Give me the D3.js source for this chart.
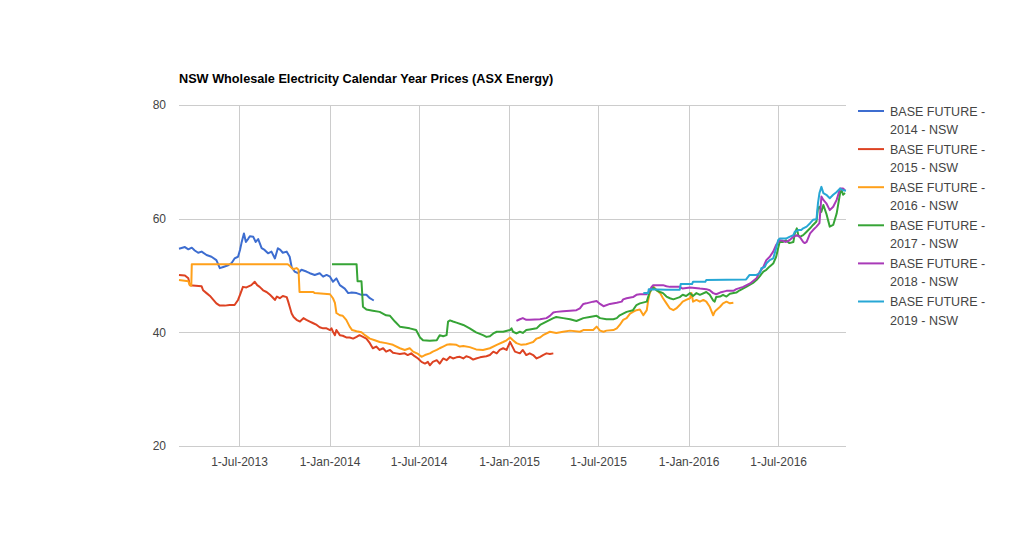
<!DOCTYPE html>
<html><head><meta charset="utf-8">
<script src="https://cdn.jsdelivr.net/npm/d3@7"></script>
<style>
body{margin:0;background:#fff;}
svg{display:block;font-family:Arial,"Liberation Sans",sans-serif;}
</style>
</head><body>
<svg id="chart" width="1024" height="551"></svg>
<script>
const chartTitle = "NSW Wholesale Electricity Calendar Year Prices (ASX Energy)";
const seriesNames = ["BASE FUTURE - 2014 - NSW","BASE FUTURE - 2015 - NSW","BASE FUTURE - 2016 - NSW","BASE FUTURE - 2017 - NSW","BASE FUTURE - 2018 - NSW","BASE FUTURE - 2019 - NSW"];
const seriesColors = ["#3d6dd0","#dd4222","#ffa01a","#36a436","#a93ab8","#27a7d5"];
const yTicks = [20,40,60,80];
const xTickDates = ["2013-07-01","2014-01-01","2014-07-01","2015-01-01","2015-07-01","2016-01-01","2016-07-01"];
const xTickLabels = ["1-Jul-2013","1-Jan-2014","1-Jul-2014","1-Jan-2015","1-Jul-2015","1-Jan-2016","1-Jul-2016"];
const xDomain = ["2013-03-01","2016-11-16"];
const yDomain = [20,80];

const base2014 = [["2013-03-01",54.7],["2013-03-13",55.0],["2013-03-20",54.6],["2013-03-27",54.9],["2013-04-02",54.4],["2013-04-09",54.0],["2013-04-16",54.2],["2013-04-26",53.6],["2013-05-06",53.3],["2013-05-16",52.7],["2013-05-23",51.3],["2013-05-30",51.5],["2013-06-09",51.8],["2013-06-16",52.2],["2013-06-22",53.0],["2013-06-29",53.3],["2013-07-03",54.5],["2013-07-06",55.7],["2013-07-11",57.4],["2013-07-15",55.9],["2013-07-20",56.5],["2013-07-23",56.9],["2013-07-30",56.8],["2013-08-04",55.9],["2013-08-09",56.4],["2013-08-16",54.8],["2013-08-22",54.5],["2013-08-29",53.9],["2013-09-05",54.2],["2013-09-12",53.0],["2013-09-18",54.8],["2013-09-23",54.5],["2013-09-28",54.0],["2013-10-06",54.2],["2013-10-12",53.3],["2013-10-16",51.5],["2013-10-22",50.7],["2013-10-29",50.4],["2013-11-05",51.0],["2013-11-15",50.7],["2013-11-22",50.4],["2013-12-02",50.1],["2013-12-12",50.4],["2013-12-19",49.8],["2013-12-26",50.1],["2014-01-02",49.8],["2014-01-08",48.9],["2014-01-15",49.5],["2014-01-22",48.3],["2014-02-01",47.7],["2014-02-08",46.9],["2014-02-15",47.0],["2014-02-25",46.9],["2014-03-07",46.6],["2014-03-17",46.6],["2014-03-24",46.0],["2014-04-01",45.6]];

const base2015 = [["2013-03-01",50.1],["2013-03-13",50.0],["2013-03-20",49.5],["2013-03-23",48.3],["2013-04-16",48.1],["2013-04-19",47.4],["2013-04-26",46.9],["2013-05-03",46.4],["2013-05-09",45.8],["2013-05-16",45.1],["2013-05-23",44.7],["2013-06-02",44.7],["2013-06-12",44.8],["2013-06-22",44.8],["2013-06-29",45.7],["2013-07-03",46.6],["2013-07-09",48.0],["2013-07-16",47.9],["2013-07-26",48.3],["2013-08-02",48.9],["2013-08-07",48.3],["2013-08-12",48.0],["2013-08-19",47.4],["2013-08-26",47.1],["2013-09-02",46.6],["2013-09-09",46.0],["2013-09-12",45.7],["2013-09-16",46.3],["2013-09-22",46.0],["2013-09-28",46.4],["2013-10-06",46.2],["2013-10-09",45.4],["2013-10-12",44.5],["2013-10-16",43.3],["2013-10-20",42.7],["2013-10-26",42.2],["2013-11-02",41.9],["2013-11-09",42.5],["2013-11-15",42.2],["2013-11-22",41.9],["2013-11-29",41.6],["2013-12-06",41.3],["2013-12-12",40.9],["2013-12-19",40.7],["2013-12-26",40.7],["2014-01-02",40.4],["2014-01-05",40.7],["2014-01-08",40.1],["2014-01-12",39.5],["2014-01-15",40.4],["2014-01-22",39.5],["2014-01-28",39.4],["2014-02-04",39.1],["2014-02-11",39.1],["2014-02-18",38.9],["2014-02-25",39.2],["2014-03-03",39.5],["2014-03-10",39.2],["2014-03-17",38.9],["2014-03-24",38.1],["2014-03-30",37.2],["2014-04-06",37.5],["2014-04-13",36.9],["2014-04-20",37.2],["2014-04-26",36.6],["2014-05-04",36.9],["2014-05-10",36.4],["2014-05-17",36.3],["2014-05-24",36.2],["2014-06-03",36.3],["2014-06-09",36.0],["2014-06-16",36.3],["2014-06-23",35.8],["2014-06-30",35.4],["2014-07-07",34.8],["2014-07-14",34.5],["2014-07-20",34.8],["2014-07-24",34.2],["2014-07-30",34.8],["2014-08-07",35.1],["2014-08-13",34.5],["2014-08-20",35.4],["2014-08-27",35.1],["2014-09-03",35.7],["2014-09-09",35.4],["2014-09-16",35.6],["2014-09-23",35.7],["2014-09-30",35.4],["2014-10-06",35.8],["2014-10-13",35.6],["2014-10-20",35.2],["2014-10-26",35.4],["2014-11-03",35.6],["2014-11-09",35.7],["2014-11-16",35.8],["2014-11-23",36.0],["2014-11-30",36.6],["2014-12-07",36.3],["2014-12-13",36.9],["2014-12-20",37.2],["2014-12-27",36.9],["2015-01-03",38.3],["2015-01-06",37.8],["2015-01-13",36.6],["2015-01-23",36.3],["2015-01-29",36.9],["2015-02-05",36.0],["2015-02-12",36.3],["2015-02-19",36.0],["2015-02-26",35.4],["2015-03-05",35.7],["2015-03-11",36.0],["2015-03-18",36.3],["2015-03-25",36.2],["2015-04-01",36.3]];

const base2016 = [["2013-03-01",49.2],["2013-03-20",49.0],["2013-03-23",48.3],["2013-03-26",48.2],["2013-03-27",52.0],["2013-10-08",52.0],["2013-10-12",51.7],["2013-10-19",51.1],["2013-10-26",51.3],["2013-10-30",51.0],["2013-11-01",47.1],["2013-11-29",47.1],["2013-12-02",46.9],["2014-01-02",46.7],["2014-01-08",46.0],["2014-01-12",45.2],["2014-01-15",43.4],["2014-01-22",43.0],["2014-01-28",42.9],["2014-02-04",42.2],["2014-02-11",41.0],["2014-02-16",40.4],["2014-02-25",40.2],["2014-03-07",40.0],["2014-03-14",39.5],["2014-03-24",38.9],["2014-04-03",38.6],["2014-04-13",38.3],["2014-04-26",38.1],["2014-05-10",37.8],["2014-05-24",37.2],["2014-06-03",36.9],["2014-06-13",37.2],["2014-06-20",36.6],["2014-06-30",36.2],["2014-07-07",35.7],["2014-07-14",36.0],["2014-07-24",36.3],["2014-07-30",36.6],["2014-08-07",36.9],["2014-08-13",37.2],["2014-08-20",37.5],["2014-08-27",37.8],["2014-09-03",37.9],["2014-09-16",37.8],["2014-09-23",37.5],["2014-09-30",37.6],["2014-10-13",37.4],["2014-10-26",37.0],["2014-11-09",36.9],["2014-11-23",37.2],["2014-12-07",37.8],["2014-12-20",38.3],["2014-12-27",38.6],["2015-01-03",39.1],["2015-01-09",38.6],["2015-01-16",38.1],["2015-01-26",37.8],["2015-02-05",37.9],["2015-02-12",38.1],["2015-02-19",38.3],["2015-02-26",38.9],["2015-03-05",39.1],["2015-03-11",39.5],["2015-03-25",40.1],["2015-04-07",39.9],["2015-04-21",40.1],["2015-05-05",40.3],["2015-05-25",40.1],["2015-06-01",40.4],["2015-06-21",40.4],["2015-06-28",41.0],["2015-07-05",40.3],["2015-07-12",40.1],["2015-07-18",40.3],["2015-08-01",40.4],["2015-08-08",40.7],["2015-08-14",41.3],["2015-08-21",42.2],["2015-08-28",42.5],["2015-09-04",43.3],["2015-09-10",43.6],["2015-09-17",43.9],["2015-09-24",44.0],["2015-10-01",43.0],["2015-10-08",43.9],["2015-10-11",45.7],["2015-10-14",46.9],["2015-10-18",47.7],["2015-10-21",48.1],["2015-10-28",47.4],["2015-11-04",46.9],["2015-11-10",46.0],["2015-11-17",45.1],["2015-11-24",44.2],["2015-12-01",43.9],["2015-12-07",44.2],["2015-12-14",44.8],["2015-12-20",45.4],["2015-12-27",45.7],["2016-01-04",46.0],["2016-01-07",46.9],["2016-01-10",45.4],["2016-01-17",45.7],["2016-01-24",45.4],["2016-01-31",45.7],["2016-02-06",45.4],["2016-02-13",44.5],["2016-02-20",43.0],["2016-02-23",43.6],["2016-02-26",43.9],["2016-03-05",44.5],["2016-03-11",45.1],["2016-03-18",45.4],["2016-03-25",45.1],["2016-04-01",45.2]];

const base2017 = [["2014-01-06",52.0],["2014-02-25",52.0],["2014-02-27",49.0],["2014-03-07",49.0],["2014-03-10",44.5],["2014-03-17",44.0],["2014-03-30",43.8],["2014-04-13",43.6],["2014-04-26",43.0],["2014-05-04",42.9],["2014-05-14",41.9],["2014-05-24",41.0],["2014-06-13",40.7],["2014-06-26",40.4],["2014-07-04",39.1],["2014-07-10",38.6],["2014-07-24",38.5],["2014-08-07",38.6],["2014-08-13",39.5],["2014-08-20",39.3],["2014-08-27",39.5],["2014-08-30",41.9],["2014-09-03",42.1],["2014-09-09",41.9],["2014-09-16",41.7],["2014-09-30",41.3],["2014-10-13",40.7],["2014-10-26",40.0],["2014-11-09",39.5],["2014-11-16",39.2],["2014-11-23",39.3],["2014-11-30",39.8],["2014-12-07",40.1],["2014-12-20",40.1],["2015-01-03",40.4],["2015-01-06",40.7],["2015-01-09",40.1],["2015-01-16",39.8],["2015-01-23",40.1],["2015-01-29",39.9],["2015-02-05",40.4],["2015-02-12",40.5],["2015-02-26",40.7],["2015-03-05",41.3],["2015-03-18",41.9],["2015-04-01",42.5],["2015-04-07",42.7],["2015-04-21",42.5],["2015-05-05",42.3],["2015-05-18",42.0],["2015-06-01",42.5],["2015-06-14",42.7],["2015-06-28",42.9],["2015-07-05",42.5],["2015-07-18",42.3],["2015-08-01",42.3],["2015-08-08",42.5],["2015-08-14",43.0],["2015-08-21",43.3],["2015-08-28",43.6],["2015-09-10",43.9],["2015-09-17",44.8],["2015-09-24",45.1],["2015-10-08",45.4],["2015-10-11",46.3],["2015-10-14",47.1],["2015-10-21",47.9],["2015-10-28",47.4],["2015-11-04",47.1],["2015-11-10",46.9],["2015-11-17",46.3],["2015-11-24",46.0],["2015-12-01",45.8],["2015-12-14",46.2],["2015-12-20",46.6],["2015-12-27",46.4],["2016-01-04",46.9],["2016-01-10",46.4],["2016-01-17",46.9],["2016-01-24",46.6],["2016-02-06",47.1],["2016-02-13",46.6],["2016-02-20",45.6],["2016-02-23",45.4],["2016-02-26",46.2],["2016-03-05",46.3],["2016-03-11",46.6],["2016-03-18",46.3],["2016-03-25",46.8],["2016-04-07",47.0],["2016-04-14",47.4],["2016-04-27",48.0],["2016-05-11",48.7],["2016-05-18",49.2],["2016-05-25",49.9],["2016-06-01",50.7],["2016-06-07",51.0],["2016-06-14",51.6],["2016-06-21",52.1],["2016-06-27",53.3],["2016-07-04",55.9],["2016-07-11",55.9],["2016-07-17",56.2],["2016-07-24",55.7],["2016-08-01",55.9],["2016-08-04",57.4],["2016-08-08",58.3],["2016-08-11",57.1],["2016-08-14",56.8],["2016-08-21",57.1],["2016-08-28",57.7],["2016-09-04",58.3],["2016-09-10",58.9],["2016-09-17",59.5],["2016-09-20",61.8],["2016-09-23",62.1],["2016-09-27",61.2],["2016-10-01",62.4],["2016-10-07",60.9],["2016-10-14",58.6],["2016-10-21",58.9],["2016-10-28",60.9],["2016-11-04",64.5],["2016-11-07",65.0],["2016-11-10",64.2],["2016-11-14",64.5]];

const base2018 = [["2015-01-16",42.0],["2015-01-23",42.3],["2015-01-29",42.5],["2015-02-05",42.2],["2015-02-12",42.2],["2015-03-05",42.3],["2015-03-18",42.5],["2015-03-25",42.9],["2015-04-01",43.5],["2015-04-07",43.6],["2015-04-21",43.7],["2015-05-05",43.8],["2015-05-18",43.9],["2015-05-25",44.2],["2015-06-01",45.0],["2015-06-07",45.1],["2015-06-21",45.4],["2015-06-28",45.5],["2015-07-05",45.0],["2015-07-12",44.6],["2015-07-25",45.0],["2015-08-08",45.2],["2015-08-18",45.4],["2015-08-21",45.8],["2015-08-28",46.0],["2015-09-10",46.2],["2015-09-17",46.6],["2015-09-24",46.7],["2015-10-08",46.7],["2015-10-14",47.4],["2015-10-18",48.0],["2015-10-21",48.3],["2015-11-10",48.3],["2015-11-17",48.1],["2015-11-24",48.0],["2015-12-14",48.0],["2015-12-20",47.7],["2016-01-04",47.9],["2016-01-24",47.7],["2016-02-06",47.6],["2016-02-13",47.4],["2016-02-20",46.9],["2016-02-26",46.7],["2016-03-05",47.0],["2016-03-18",47.3],["2016-04-01",47.3],["2016-04-07",47.6],["2016-04-21",48.0],["2016-05-05",48.6],["2016-05-18",49.5],["2016-05-25",50.7],["2016-06-01",51.5],["2016-06-07",52.7],["2016-06-14",53.3],["2016-06-21",54.2],["2016-06-27",55.4],["2016-07-04",56.2],["2016-07-11",56.1],["2016-07-17",55.9],["2016-07-24",56.2],["2016-08-01",56.8],["2016-08-08",57.1],["2016-08-14",56.8],["2016-08-21",55.9],["2016-08-24",55.7],["2016-08-28",55.9],["2016-09-04",57.4],["2016-09-10",58.0],["2016-09-17",58.6],["2016-09-23",59.2],["2016-09-27",63.9],["2016-10-01",63.3],["2016-10-07",62.7],["2016-10-14",61.5],["2016-10-21",62.1],["2016-10-28",63.3],["2016-11-04",65.3],["2016-11-10",65.3],["2016-11-14",65.0]];

const base2019 = [["2015-10-01",46.9],["2015-10-11",46.9],["2015-10-12",47.6],["2015-11-17",47.5],["2015-12-14",47.5],["2015-12-16",48.5],["2016-01-08",48.5],["2016-01-10",48.9],["2016-02-04",48.9],["2016-02-06",49.2],["2016-04-27",49.3],["2016-05-04",50.1],["2016-05-18",50.1],["2016-05-25",50.4],["2016-05-28",51.3],["2016-06-04",51.5],["2016-06-07",52.1],["2016-06-14",52.7],["2016-06-21",53.0],["2016-06-27",54.8],["2016-07-01",56.2],["2016-07-04",56.5],["2016-07-17",56.5],["2016-07-24",56.8],["2016-08-01",57.1],["2016-08-04",57.7],["2016-08-11",58.0],["2016-08-17",58.0],["2016-08-21",58.3],["2016-08-28",58.6],["2016-09-04",59.2],["2016-09-10",59.8],["2016-09-17",59.9],["2016-09-20",62.7],["2016-09-23",64.5],["2016-09-27",65.6],["2016-10-01",64.5],["2016-10-07",64.2],["2016-10-14",63.6],["2016-10-21",64.2],["2016-10-28",64.7],["2016-11-04",65.3],["2016-11-10",65.0],["2016-11-16",64.9]];

const allSeries = [base2014, base2015, base2016, base2017, base2018, base2019];

const parse = d3.timeParse("%Y-%m-%d");
const svg = d3.select("#chart");
const W = 1024, H = 551;
const margin = {left:179, right:178, top:105, bottom:105};

const x = d3.scaleTime().domain(xDomain.map(parse)).range([margin.left, W - margin.right]);
const y = d3.scaleLinear().domain(yDomain).range([H - margin.bottom, margin.top]);

// title
svg.append("text").attr("x", 179).attr("y", 83)
  .attr("font-size", 12.7).attr("font-weight", "bold").attr("fill", "#000")
  .text(chartTitle);

// horizontal gridlines + y labels
const yAxis = d3.axisLeft(y).tickValues(yTicks).tickSize(-(W - margin.left - margin.right)).tickPadding(13).tickFormat(d3.format("d"));
const gy = svg.append("g").attr("transform", `translate(${margin.left},0)`).call(yAxis);
gy.select(".domain").remove();
gy.selectAll(".tick line").attr("stroke", "#cccccc").attr("shape-rendering", "crispEdges");
gy.selectAll(".tick text").attr("font-size", 12).attr("fill", "#444").attr("font-family", "Arial, 'Liberation Sans', sans-serif");

// vertical gridlines + x labels
const xAxis = d3.axisBottom(x).tickValues(xTickDates.map(parse))
  .tickSize(-(H - margin.top - margin.bottom)).tickPadding(11)
  .tickFormat((d, i) => xTickLabels[i]);
const gx = svg.append("g").attr("transform", `translate(0,${H - margin.bottom})`).call(xAxis);
gx.select(".domain").remove();
gx.selectAll(".tick line").attr("stroke", "#cccccc").attr("shape-rendering", "crispEdges");
gx.selectAll(".tick text").attr("font-size", 12).attr("fill", "#444").attr("font-family", "Arial, 'Liberation Sans', sans-serif");

// lines
const line = d3.line().x(d => x(parse(d[0]))).y(d => y(d[1]));
allSeries.forEach((s, i) => {
  svg.append("path").datum(s)
    .attr("fill", "none").attr("stroke", seriesColors[i])
    .attr("stroke-width", 2).attr("stroke-linejoin", "round")
    .attr("d", line);
});

// legend
const lg = svg.append("g");
seriesNames.forEach((name, i) => {
  const cy = 111 + i * 38.1;
  lg.append("line").attr("x1", 858).attr("x2", 884).attr("y1", cy).attr("y2", cy)
    .attr("stroke", seriesColors[i]).attr("stroke-width", 2);
  const parts = name.match(/^(.*-) (\d{4} - NSW)$/);
  const t = lg.append("text").attr("x", 890).attr("y", cy + 4.5)
    .attr("font-size", 12.5).attr("fill", "#444");
  t.append("tspan").attr("x", 890).text(parts[1]);
  t.append("tspan").attr("x", 890).attr("dy", 18.5).text(parts[2]);
});
</script>
</body></html>
